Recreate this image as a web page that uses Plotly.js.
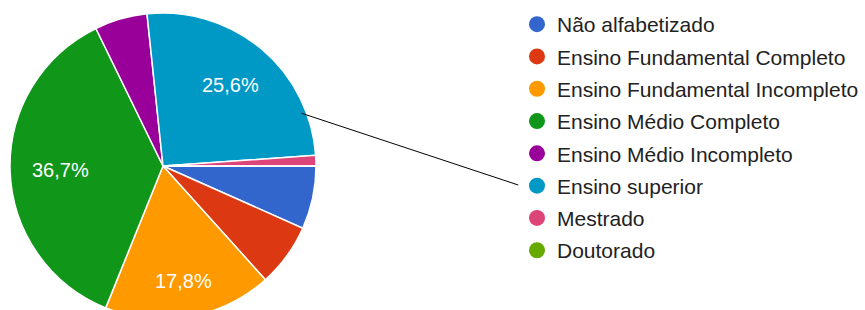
<!DOCTYPE html>
<html>
<head>
<meta charset="utf-8">
<script src="https://cdn.plot.ly/plotly-3.0.1.min.js"></script>
<style>
  html, body { margin: 0; padding: 0; overflow: hidden; background: #fff; }
  #chart { width: 865px; height: 330px; }
</style>
</head>
<body>
<div id="chart"></div>
<script>
// Data (respondent counts, total 90)
const categories = [
  "Não alfabetizado",
  "Ensino Fundamental Completo",
  "Ensino Fundamental Incompleto",
  "Ensino Médio Completo",
  "Ensino Médio Incompleto",
  "Ensino superior",
  "Mestrado",
  "Doutorado"
];
const counts = [6, 6, 16, 33, 5, 23, 1, 0];
const colors = ["#3366cc", "#dc3912", "#ff9900", "#109618", "#990099", "#0099c6", "#dd4477", "#66aa00"];

const W = 865, H = 330;
const FONT = "Arial, 'Liberation Sans', sans-serif";
const total = counts.reduce((a, b) => a + b, 0);
const ROTATION = 90;

// pie geometry (pixels) derived from the domain below
const pieLeft = 10, pieRight = 316, pieTop = 13, pieBottom = 319;
const cx = (pieLeft + pieRight) / 2, cy = (pieTop + pieBottom) / 2;
const R = (pieRight - pieLeft) / 2;

const pie = {
  type: "pie",
  labels: categories,
  values: counts,
  sort: false,
  direction: "clockwise",
  rotation: ROTATION,
  marker: { colors: colors, line: { color: "#ffffff", width: 1.5 } },
  textinfo: "none",
  hoverinfo: "label+percent",
  showlegend: false,
  domain: { x: [pieLeft / W, pieRight / W], y: [(H - pieBottom) / H, (H - pieTop) / H] }
};

// slice labels (Google-Charts style placement) computed from the data
const canvas = document.createElement("canvas");
const ctx = canvas.getContext("2d");
ctx.font = "20px Arial, 'Liberation Sans', sans-serif";
const annotations = [];
let cum = 0;
counts.forEach((v, i) => {
  const share = v / total;
  const mid = (ROTATION + (cum + share / 2) * 360) * Math.PI / 180;
  cum += share;
  if (share < 0.1) return;
  const txt = (share * 100).toFixed(1).replace(".", ",") + "%";
  const hw = ctx.measureText(txt).width / 2, hh = 9;
  const r = 0.855 * R - (hw * Math.abs(Math.sin(mid)) + hh * Math.abs(Math.cos(mid)));
  const px = cx + r * Math.sin(mid), py = cy - r * Math.cos(mid);
  annotations.push({
    xref: "paper", yref: "paper",
    x: px / W, y: 1 - py / H,
    xanchor: "center", yanchor: "middle",
    text: txt, showarrow: false,
    font: { color: "#ffffff", size: 20, family: FONT }
  });
});

const legendTraces = categories.map((c, i) => ({
  type: "scatter",
  mode: "markers",
  x: [null],
  y: [null],
  name: c,
  legendgroup: "g" + i,
  marker: { color: colors[i], size: 16, symbol: "circle" },
  hoverinfo: "skip"
}));

const layout = {
  width: W,
  height: H,
  margin: { l: 0, r: 0, t: 0, b: 0 },
  paper_bgcolor: "#ffffff",
  plot_bgcolor: "#ffffff",
  font: { family: FONT, color: "#222222" },
  xaxis: { visible: false },
  yaxis: { visible: false },
  showlegend: true,
  legend: {
    x: 517 / W,
    xanchor: "left",
    y: 1 - 4 / H,
    yanchor: "top",
    font: { size: 21, color: "#222222" },
    tracegroupgap: 2,
    itemsizing: "trace",
    bgcolor: "rgba(0,0,0,0)"
  },
  annotations: annotations,
  shapes: [{
    type: "line",
    xref: "paper", yref: "paper",
    x0: 301.7 / W, y0: 1 - 113.3 / H,
    x1: 518.3 / W, y1: 1 - 185 / H,
    line: { color: "#000000", width: 1 }
  }]
};

Plotly.newPlot("chart", [pie].concat(legendTraces), layout, { displayModeBar: false, staticPlot: true });
</script>
</body>
</html>
